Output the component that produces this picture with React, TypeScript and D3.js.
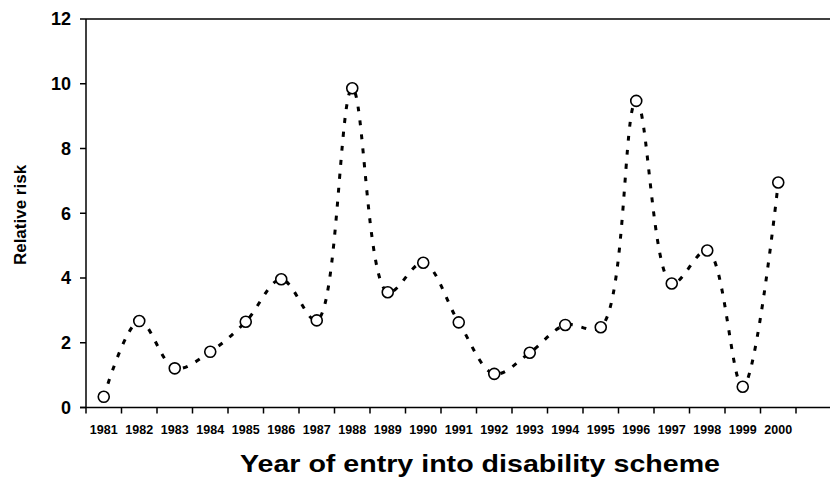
import React from "react";
import * as d3 from "d3";

const years = [1981, 1982, 1983, 1984, 1985, 1986, 1987, 1988, 1989, 1990, 1991, 1992, 1993, 1994, 1995, 1996, 1997, 1998, 1999, 2000];
const relativeRisk = [0.33, 2.67, 1.21, 1.72, 2.65, 3.96, 2.69, 9.86, 3.56, 4.47, 2.63, 1.04, 1.69, 2.55, 2.48, 9.47, 3.83, 4.85, 0.64, 6.95];
const yTicks = [0, 2, 4, 6, 8, 10, 12];
const xTitle = "Year of entry into disability scheme";
const yTitle = "Relative risk";

export default function App() {
  const W = 830, H = 480;
  const left = 86, top = 19, bottom = 407.5;
  const x = d3.scaleLinear().domain([1980.5, 2001.5]).range([left, 831.5]);
  const y = d3.scaleLinear().domain([0, 12]).range([bottom, top]);
  const line = d3.line<number>()
    .x((_, i) => x(years[i]))
    .y((d) => y(d))
    .curve(d3.curveCatmullRom.alpha(0.5));
  const xTickVals = d3.range(0, years.length + 1).map((i) => 1980.5 + i);
  const font = "Liberation Sans, Arial, sans-serif";
  return (
    <svg width={W} height={H} style={{ position: "absolute", left: 0, top: 0, background: "#fff" }}>
      <rect width={W} height={H} fill="#fff" />
      {/* frame */}
      <line x1={left} x2={W} y1={top} y2={top} stroke="#000" strokeWidth={1.5} />
      <line x1={left} x2={left} y1={top} y2={bottom} stroke="#000" strokeWidth={1.5} />
      <line x1={left - 6} x2={W} y1={bottom} y2={bottom} stroke="#000" strokeWidth={1.5} />
      {/* y ticks */}
      {yTicks.map((t) => (
        <g key={t}>
          <line x1={left - 6} x2={left} y1={y(t)} y2={y(t)} stroke="#000" strokeWidth={1.5} />
          <text x={71} y={y(t)} dy="0.36em" textAnchor="end" fontFamily={font} fontWeight="bold" fontSize={18}>{t}</text>
        </g>
      ))}
      {/* x ticks */}
      {xTickVals.map((t) => (
        <line key={t} x1={x(t)} x2={x(t)} y1={bottom} y2={bottom + 6} stroke="#000" strokeWidth={1.5} />
      ))}
      {years.map((yr) => (
        <text key={yr} x={x(yr)} y={434} textAnchor="middle" fontFamily={font} fontWeight="bold" fontSize={12.5}>{yr}</text>
      ))}
      {/* line */}
      <path d={line(relativeRisk) || ""} fill="none" stroke="#000" strokeWidth={3} strokeDasharray="5,9" />
      {relativeRisk.map((v, i) => (
        <circle key={i} cx={x(years[i])} cy={y(v)} r={5.5} fill="#fff" stroke="#000" strokeWidth={1.6} />
      ))}
      {/* titles */}
      <text x={480} y={472} textAnchor="middle" fontFamily={font} fontWeight="bold" fontSize={24} textLength={480} lengthAdjust="spacingAndGlyphs">{xTitle}</text>
      <text transform={`translate(26,215) rotate(-90)`} textAnchor="middle" fontFamily={font} fontWeight="bold" fontSize={17}>{yTitle}</text>
    </svg>
  );
}
